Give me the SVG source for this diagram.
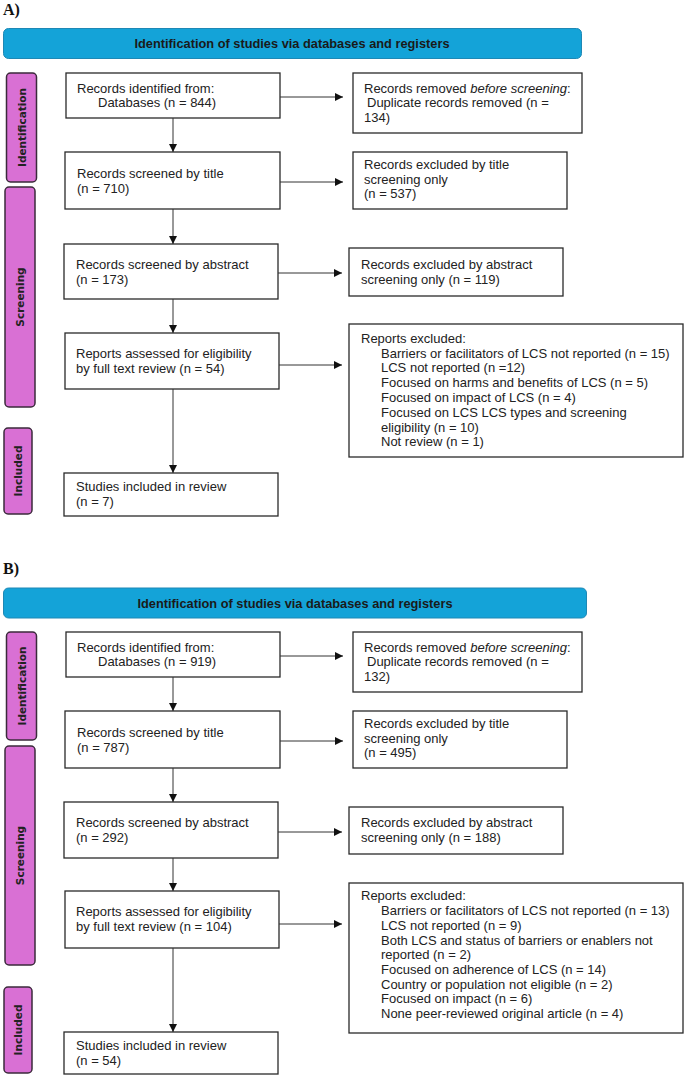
<svg xmlns="http://www.w3.org/2000/svg" width="685" height="1077" viewBox="0 0 685 1077">
<style>
.bg{fill:#ffffff}
.panel{font-family:"Liberation Serif",serif;font-weight:bold;font-size:16px;fill:#111}
.hdr{fill:#14a3d8;stroke:#1e88b5;stroke-width:1}
.hdrt{font-family:"Liberation Sans",Arial,sans-serif;font-weight:bold;font-size:12.8px;fill:#1a1a1a;text-anchor:middle}
.lab{fill:#d970d4;stroke:#3b2a3b;stroke-width:1.5}
.labt{font-family:"DejaVu Sans",sans-serif;font-weight:bold;font-size:10.5px;fill:#222;text-anchor:middle}
.box{fill:#ffffff;stroke:#2a2a2a;stroke-width:1.3}
.t{font-family:"Liberation Sans",Arial,sans-serif;font-size:13px;fill:#222}
.ln{stroke:#333;stroke-width:1;fill:none}
</style>
<defs>
<marker id="ah" markerUnits="userSpaceOnUse" markerWidth="9" markerHeight="8" refX="8" refY="4" orient="auto">
<path d="M0,0 L8,4 L0,8 z" fill="#111"/>
</marker>
</defs>
<rect class="bg" x="0" y="0" width="685" height="1077"/>

<!-- Panel A -->
<text class="panel" x="3" y="15">A)</text>
<g id="A-header"><rect class="hdr" x="3.5" y="28.5" width="578" height="30" rx="5"/><text class="hdrt" x="292" y="48">Identification of studies via databases and registers</text></g>
<g id="A-lab-ident"><rect class="lab" x="6.5" y="73" width="30" height="109" rx="4"/><text class="labt" transform="translate(25.5,127.5) rotate(-90)">Identification</text></g>
<g id="A-lab-screen"><rect class="lab" x="5" y="187" width="30" height="220" rx="4"/><text class="labt" transform="translate(24,297) rotate(-90)">Screening</text></g>
<g id="A-lab-incl"><rect class="lab" x="4" y="428" width="28" height="86" rx="4"/><text class="labt" transform="translate(22,471) rotate(-90)">Included</text></g>

<g id="A-box1"><rect class="box" x="66" y="73" width="214" height="45"/><text class="t" x="77" y="93">Records identified from:</text><text class="t" x="98" y="107">Databases (n = 844)</text></g>
<g id="A-box2"><rect class="box" x="65" y="152" width="215" height="57"/><text class="t" x="77" y="178">Records screened by title</text><text class="t" x="77" y="193">(n = 710)</text></g>
<g id="A-box3"><rect class="box" x="64" y="244" width="214" height="55"/><text class="t" x="76" y="269">Records screened by abstract</text><text class="t" x="76" y="284">(n = 173)</text></g>
<g id="A-box4"><rect class="box" x="65" y="333" width="214" height="56"/><text class="t" x="76" y="358">Reports assessed for eligibility</text><text class="t" x="76" y="373">by full text review (n = 54)</text></g>
<g id="A-box5"><rect class="box" x="64" y="473" width="214" height="43"/><text class="t" x="76" y="491">Studies included in review</text><text class="t" x="76" y="506">(n = 7)</text></g>

<g id="A-r1"><rect class="box" x="353" y="73" width="229" height="60"/><text class="t" x="364" y="93">Records removed <tspan font-style="italic">before screening</tspan>:</text><text class="t" x="367" y="107">Duplicate records removed  (n =</text><text class="t" x="364" y="122">134)</text></g>
<g id="A-r2"><rect class="box" x="353" y="152" width="214" height="57"/><text class="t" x="364" y="169">Records excluded by title</text><text class="t" x="364" y="184">screening only</text><text class="t" x="364" y="198">(n = 537)</text></g>
<g id="A-r3"><rect class="box" x="349" y="248" width="214" height="48"/><text class="t" x="361" y="269">Records excluded by abstract</text><text class="t" x="361" y="284">screening only (n = 119)</text></g>
<g id="A-r4"><rect class="box" x="349" y="324" width="334" height="133"/>
<text class="t" x="361" y="343">Reports excluded:</text>
<text class="t" x="381" y="358">Barriers or facilitators of LCS not reported (n = 15)</text>
<text class="t" x="381" y="372">LCS not reported (n =12)</text>
<text class="t" x="381" y="387">Focused on harms and benefits of LCS (n = 5)</text>
<text class="t" x="381" y="402">Focused on impact of LCS (n = 4)</text>
<text class="t" x="381" y="417">Focused on LCS LCS types and screening</text>
<text class="t" x="381" y="432">eligibility (n = 10)</text>
<text class="t" x="381" y="446">Not review (n = 1)</text>
</g>

<g id="A-connectors">
<line class="ln" x1="173" y1="118" x2="173" y2="152" marker-end="url(#ah)"/>
<line class="ln" x1="173" y1="209" x2="173" y2="244" marker-end="url(#ah)"/>
<line class="ln" x1="173" y1="299" x2="173" y2="333" marker-end="url(#ah)"/>
<line class="ln" x1="173" y1="389" x2="173" y2="473" marker-end="url(#ah)"/>
<line class="ln" x1="280" y1="97" x2="343" y2="97" marker-end="url(#ah)"/>
<line class="ln" x1="280" y1="182" x2="343" y2="182" marker-end="url(#ah)"/>
<line class="ln" x1="278" y1="273" x2="342" y2="273" marker-end="url(#ah)"/>
<line class="ln" x1="279" y1="365" x2="342" y2="365" marker-end="url(#ah)"/>
</g>

<!-- Panel B -->
<text class="panel" x="3" y="574">B)</text>
<g id="B-header"><rect class="hdr" x="3.5" y="588" width="583" height="30" rx="5"/><text class="hdrt" x="295" y="607.5">Identification of studies via databases and registers</text></g>
<g id="B-lab-ident"><rect class="lab" x="6.5" y="632" width="30" height="108" rx="4"/><text class="labt" transform="translate(25.5,686) rotate(-90)">Identification</text></g>
<g id="B-lab-screen"><rect class="lab" x="5" y="746" width="30" height="219" rx="4"/><text class="labt" transform="translate(24,855.5) rotate(-90)">Screening</text></g>
<g id="B-lab-incl"><rect class="lab" x="4" y="987" width="28" height="86" rx="4"/><text class="labt" transform="translate(22,1030) rotate(-90)">Included</text></g>

<g id="B-box1"><rect class="box" x="66" y="632" width="214" height="45"/><text class="t" x="77" y="652">Records identified from:</text><text class="t" x="98" y="666">Databases (n = 919)</text></g>
<g id="B-box2"><rect class="box" x="65" y="711" width="215" height="57"/><text class="t" x="77" y="737">Records screened by title</text><text class="t" x="77" y="752">(n = 787)</text></g>
<g id="B-box3"><rect class="box" x="64" y="802" width="214" height="56"/><text class="t" x="76" y="827">Records screened by abstract</text><text class="t" x="76" y="842">(n = 292)</text></g>
<g id="B-box4"><rect class="box" x="65" y="891" width="214" height="57"/><text class="t" x="76" y="916">Reports assessed for eligibility</text><text class="t" x="76" y="931">by full text review (n = 104)</text></g>
<g id="B-box5"><rect class="box" x="64" y="1032" width="214" height="42"/><text class="t" x="76" y="1050">Studies included in review</text><text class="t" x="76" y="1065">(n = 54)</text></g>

<g id="B-r1"><rect class="box" x="353" y="632" width="229" height="60"/><text class="t" x="364" y="652">Records removed <tspan font-style="italic">before screening</tspan>:</text><text class="t" x="367" y="666">Duplicate records removed  (n =</text><text class="t" x="364" y="681">132)</text></g>
<g id="B-r2"><rect class="box" x="353" y="711" width="214" height="57"/><text class="t" x="364" y="728">Records excluded by title</text><text class="t" x="364" y="743">screening only</text><text class="t" x="364" y="757">(n = 495)</text></g>
<g id="B-r3"><rect class="box" x="349" y="807" width="214" height="47"/><text class="t" x="361" y="827">Records excluded by abstract</text><text class="t" x="361" y="842">screening only (n = 188)</text></g>
<g id="B-r4"><rect class="box" x="349" y="883" width="334" height="150"/>
<text class="t" x="361" y="900">Reports excluded:</text>
<text class="t" x="381" y="915">Barriers or facilitators of LCS not reported (n = 13)</text>
<text class="t" x="381" y="930">LCS not reported (n = 9)</text>
<text class="t" x="381" y="945">Both LCS and status of barriers or enablers not</text>
<text class="t" x="381" y="959">reported (n = 2)</text>
<text class="t" x="381" y="974">Focused on adherence of LCS (n = 14)</text>
<text class="t" x="381" y="989">Country or population not eligible (n = 2)</text>
<text class="t" x="381" y="1003">Focused on impact (n = 6)</text>
<text class="t" x="381" y="1018">None peer-reviewed original article (n = 4)</text>
</g>

<g id="B-connectors">
<line class="ln" x1="173" y1="677" x2="173" y2="711" marker-end="url(#ah)"/>
<line class="ln" x1="173" y1="768" x2="173" y2="802" marker-end="url(#ah)"/>
<line class="ln" x1="173" y1="858" x2="173" y2="891" marker-end="url(#ah)"/>
<line class="ln" x1="173" y1="948" x2="173" y2="1032" marker-end="url(#ah)"/>
<line class="ln" x1="280" y1="656" x2="343" y2="656" marker-end="url(#ah)"/>
<line class="ln" x1="280" y1="741" x2="343" y2="741" marker-end="url(#ah)"/>
<line class="ln" x1="278" y1="832" x2="342" y2="832" marker-end="url(#ah)"/>
<line class="ln" x1="279" y1="924" x2="342" y2="924" marker-end="url(#ah)"/>
</g>
</svg>
